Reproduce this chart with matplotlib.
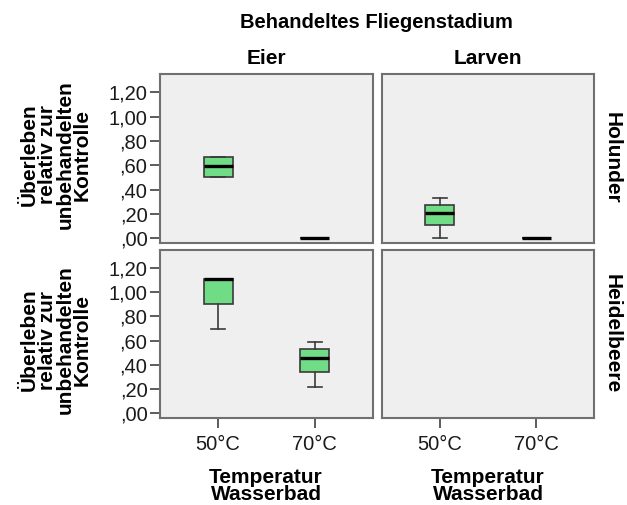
import matplotlib.pyplot as plt

plt.rcParams['font.family'] = ['Liberation Sans', 'DejaVu Sans']

# Data
stages = ['Eier', 'Larven']
plants = ['Holunder', 'Heidelbeere']
temps = ['50°C', '70°C']

# per (plant, stage): one list per temperature -> [whislo, q1, med, q3, whishi]
holunder_eier = [[0.50, 0.50, 0.59, 0.67, 0.67], [0.0, 0.0, 0.0, 0.0, 0.0]]
holunder_larven = [[0.00, 0.11, 0.21, 0.27, 0.33], [0.0, 0.0, 0.0, 0.0, 0.0]]
heidel_eier = [[0.70, 0.90, 1.11, 1.11, 1.11], [0.22, 0.34, 0.46, 0.53, 0.59]]
heidel_larven = [None, None]

yticks = [0, 0.2, 0.4, 0.6, 0.8, 1.0, 1.2]
ytick_labels = [',00', ',20', ',40', ',60', ',80', '1,00', '1,20']

W, H = 627, 505
fig = plt.figure(figsize=(W / 100, H / 100), dpi=100)

def px_axes(x0, y0, x1, y1):
    return fig.add_axes([x0 / W, 1 - y1 / H, (x1 - x0) / W, (y1 - y0) / H])

panels = {
    (0, 0): (px_axes(160, 74, 373, 243), holunder_eier),
    (0, 1): (px_axes(382, 74, 594, 243), holunder_larven),
    (1, 0): (px_axes(160, 250, 373, 418), heidel_eier),
    (1, 1): (px_axes(382, 250, 594, 418), heidel_larven),
}

green = '#70dc86'
edge = '#3a3a3a'

for (r, c), (ax, groups) in panels.items():
    ax.set_facecolor('#efefef')
    for s in ax.spines.values():
        s.set_color('#707070')
        s.set_linewidth(1.5)
    stats, pos = [], []
    for i, g in enumerate(groups):
        if g is None:
            continue
        lo, q1, med, q3, hi = g
        stats.append(dict(whislo=lo, q1=q1, med=med, q3=q3, whishi=hi, fliers=[]))
        pos.append(i)
    if stats:
        ax.bxp(stats, positions=pos, widths=0.3, patch_artist=True, showfliers=False,
               boxprops=dict(facecolor=green, edgecolor=edge, linewidth=1.2),
               medianprops=dict(color='black', linewidth=2.4),
               whiskerprops=dict(color=edge, linewidth=1.2),
               capprops=dict(color=edge, linewidth=1.2), capwidths=0.15)
    ax.set_xlim(-0.6, 1.6)
    ax.set_ylim(-0.04, 1.35)
    ax.set_yticks(yticks)
    ax.set_xticks([0, 1])
    ax.tick_params(direction='out', length=7, width=1.2, color='#404040',
                   labelsize=14.5, labelcolor='#1a1a1a', pad=2)
    if c == 0:
        ax.set_yticklabels(ytick_labels)
    else:
        ax.tick_params(axis='y', left=False, labelleft=False)
    if r == 1:
        ax.set_xticklabels(temps)
        ax.tick_params(axis='x', pad=5)
    else:
        ax.tick_params(axis='x', bottom=False, labelbottom=False)

# titles and labels
fig.text(376 / W, 1 - 22 / H, 'Behandeltes Fliegenstadium', ha='center', va='center',
         fontsize=14.5, fontweight='bold')
for x, s in zip([266, 488], stages):
    fig.text(x / W, 1 - 58 / H, s, ha='center', va='center', fontsize=15, fontweight='bold')
for y, s in zip([158, 334], plants):
    fig.text(612 / W, 1 - y / H, s, ha='center', va='center', rotation=-90,
             fontsize=15, fontweight='bold')
ylab = 'Überleben\nrelativ zur\nunbehandelten\nKontrolle'
for y in [155, 340]:
    fig.text(56 / W, 1 - y / H, ylab, ha='center', va='center', rotation=90,
             fontsize=15, fontweight='bold', linespacing=0.9)
for x in [266, 488]:
    fig.text(x / W, 1 - 486 / H, 'Temperatur\nWasserbad', ha='center', va='center',
             fontsize=15, fontweight='bold', linespacing=0.9)

fig.savefig('out.png', dpi=100)
